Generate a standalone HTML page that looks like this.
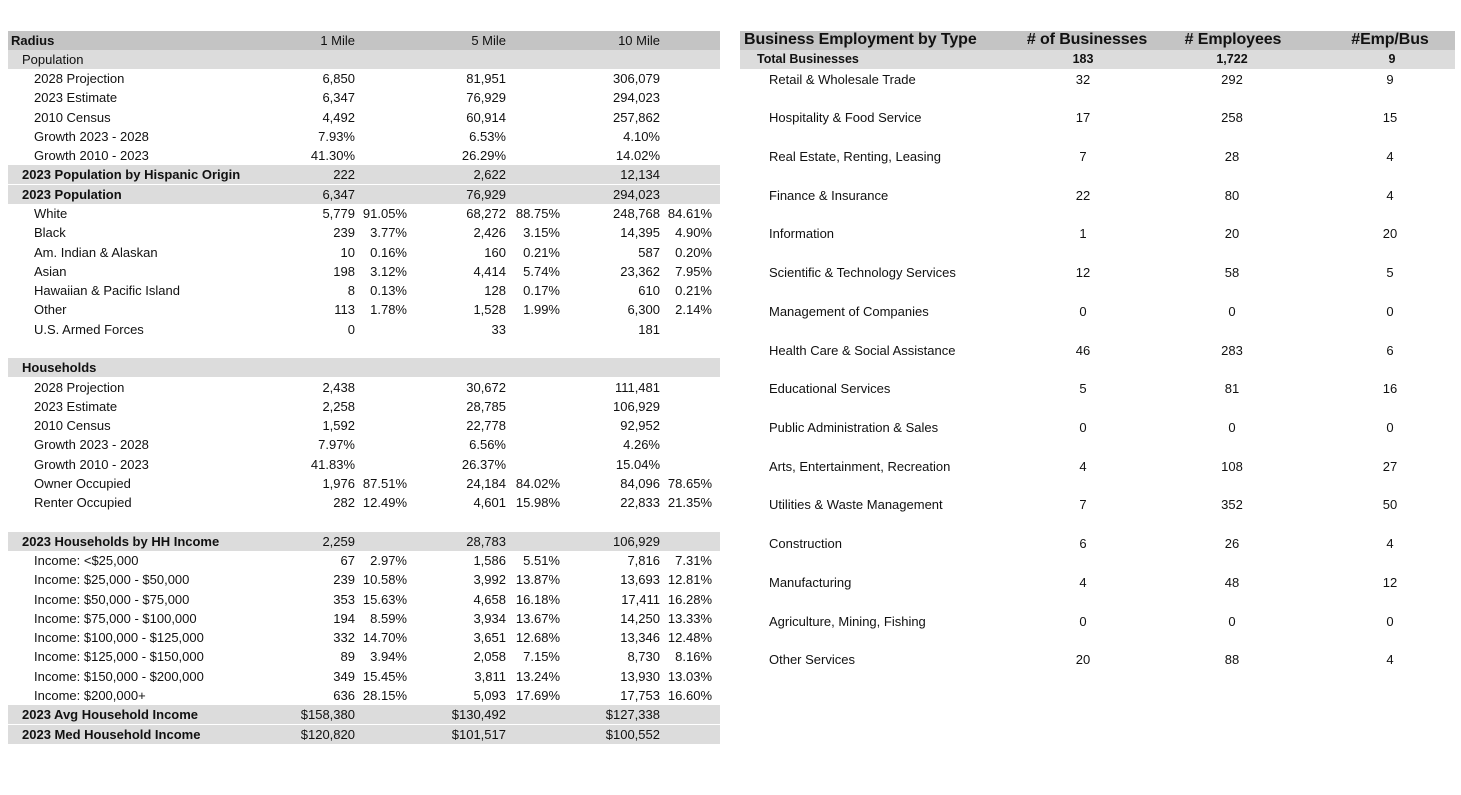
<!DOCTYPE html>
<html><head><meta charset="utf-8"><style>
body{margin:0;width:1461px;height:795px;background:#fff;font-family:"Liberation Sans",Arial,sans-serif;font-size:13px;color:#111;position:relative;overflow:hidden}
.bg{position:absolute}
.t{position:absolute;white-space:nowrap;line-height:19px}
.r{text-align:right}
.c{text-align:center}
.b{font-weight:bold}
</style></head><body>
<div id="root"></div>
<script>
const leftRows = [
 ["Radius","1 Mile","","5 Mile","","10 Mile","","hdr",11],
 ["Population","","","","","","","sub",22],
 ["2028 Projection","6,850","","81,951","","306,079","","",34],
 ["2023 Estimate","6,347","","76,929","","294,023","","",34],
 ["2010 Census","4,492","","60,914","","257,862","","",34],
 ["Growth 2023 - 2028","7.93%","","6.53%","","4.10%","","",34],
 ["Growth 2010 - 2023","41.30%","","26.29%","","14.02%","","",34],
 ["2023 Population by Hispanic Origin","222","","2,622","","12,134","","bold",22],
 ["2023 Population","6,347","","76,929","","294,023","","bold",22],
 ["White","5,779","91.05%","68,272","88.75%","248,768","84.61%","",34],
 ["Black","239","3.77%","2,426","3.15%","14,395","4.90%","",34],
 ["Am. Indian & Alaskan","10","0.16%","160","0.21%","587","0.20%","",34],
 ["Asian","198","3.12%","4,414","5.74%","23,362","7.95%","",34],
 ["Hawaiian & Pacific Island","8","0.13%","128","0.17%","610","0.21%","",34],
 ["Other","113","1.78%","1,528","1.99%","6,300","2.14%","",34],
 ["U.S. Armed Forces","0","","33","","181","","",34],
 ["","","","","","","","",34],
 ["Households","","","","","","","boldsub",22],
 ["2028 Projection","2,438","","30,672","","111,481","","",34],
 ["2023 Estimate","2,258","","28,785","","106,929","","",34],
 ["2010 Census","1,592","","22,778","","92,952","","",34],
 ["Growth 2023 - 2028","7.97%","","6.56%","","4.26%","","",34],
 ["Growth 2010 - 2023","41.83%","","26.37%","","15.04%","","",34],
 ["Owner Occupied","1,976","87.51%","24,184","84.02%","84,096","78.65%","",34],
 ["Renter Occupied","282","12.49%","4,601","15.98%","22,833","21.35%","",34],
 ["","","","","","","","",34],
 ["2023 Households by HH Income","2,259","","28,783","","106,929","","bold",22],
 ["Income: <$25,000","67","2.97%","1,586","5.51%","7,816","7.31%","",34],
 ["Income: $25,000 - $50,000","239","10.58%","3,992","13.87%","13,693","12.81%","",34],
 ["Income: $50,000 - $75,000","353","15.63%","4,658","16.18%","17,411","16.28%","",34],
 ["Income: $75,000 - $100,000","194","8.59%","3,934","13.67%","14,250","13.33%","",34],
 ["Income: $100,000 - $125,000","332","14.70%","3,651","12.68%","13,346","12.48%","",34],
 ["Income: $125,000 - $150,000","89","3.94%","2,058","7.15%","8,730","8.16%","",34],
 ["Income: $150,000 - $200,000","349","15.45%","3,811","13.24%","13,930","13.03%","",34],
 ["Income: $200,000+","636","28.15%","5,093","17.69%","17,753","16.60%","",34],
 ["2023 Avg Household Income","$158,380","","$130,492","","$127,338","","bold",22],
 ["2023 Med Household Income","$120,820","","$101,517","","$100,552","","bold",22]
];
const bizNames = ["Retail & Wholesale Trade","Hospitality & Food Service","Real Estate, Renting, Leasing","Finance & Insurance","Information","Scientific & Technology Services","Management of Companies","Health Care & Social Assistance","Educational Services","Public Administration & Sales","Arts, Entertainment, Recreation","Utilities & Waste Management","Construction","Manufacturing","Agriculture, Mining, Fishing","Other Services"];
const bizCounts = ["32","17","7","22","1","12","0","46","5","0","4","7","6","4","0","20"];
const bizEmployees = ["292","258","28","80","20","58","0","283","81","0","108","352","26","48","0","88"];
const bizRatio = ["9","15","4","4","20","5","0","6","16","0","27","50","4","12","0","4"];

const root=document.getElementById('root');
function add(cls,txt,x,y,w,style){
  const d=document.createElement('div');
  d.className=cls; d.textContent=txt;
  d.style.left=x+'px'; d.style.top=y+'px';
  if(w) d.style.width=w+'px';
  if(style) d.style.cssText+=style;
  root.appendChild(d); return d;
}
const pitch=19.28, top0=30.5;
leftRows.forEach((r,i)=>{
  const y=top0+i*pitch;
  const kind=r[7];
  if(kind){
    const bg=add('bg','',8,y,712,'height:19px;background:'+(kind==='hdr'?'#c4c4c4':'#dcdcdc'));
    
    
  }
  const bold=(kind==='hdr'||kind==='bold'||kind==='boldsub')?' b':'';
  const l=add('t'+bold,r[0],r[8],y);
  
  
  const numR=[355,506,660], pctR=[407,560,712];
  for(let k=0;k<3;k++){
    const n=add('t r',r[1+k*2],numR[k]-120,y,120);
    
    
    if(r[2+k*2]){
      const p=add('t r',r[2+k*2],pctR[k]-60,y,60);
      
      
    }
  }
});
let h=add('bg','',740,30.5,715,'height:19px;background:#c4c4c4');


h=add('bg','',740,50,715,'height:19px;background:#dcdcdc');


const hs=[["Business Employment by Type",744,null,''],["# of Businesses",1087,170,' c'],["# Employees",1233,170,' c'],["#Emp/Bus",1390,170,' c']];
hs.forEach(a=>{
  const e=add('t b'+a[3],a[0],a[2]?a[1]-a[2]/2:a[1],29.5,a[2],'font-size:16px;line-height:20px;letter-spacing:-0.1px');
  
  
});
[["Total Businesses",757,null,''],["183",1083,100,' c'],["1,722",1232,100,' c'],["9",1392,100,' c']].forEach(a=>{
  const e=add('t b'+a[3],a[0],a[2]?a[1]-a[2]/2:a[1],50,a[2],'font-size:12.5px');
  
  
});
const bp=38.72;
bizNames.forEach((nm,i)=>{
  const y=69.5+i*bp;
  let e=add('t',nm,769,y);
  
  
  e=add('t c',bizCounts[i],1033,y,100);
  
  
  e=add('t c',bizEmployees[i],1182,y,100);
  
  
  e=add('t c',bizRatio[i],1340,y,100);
  
  
});
</script>
</body></html>
